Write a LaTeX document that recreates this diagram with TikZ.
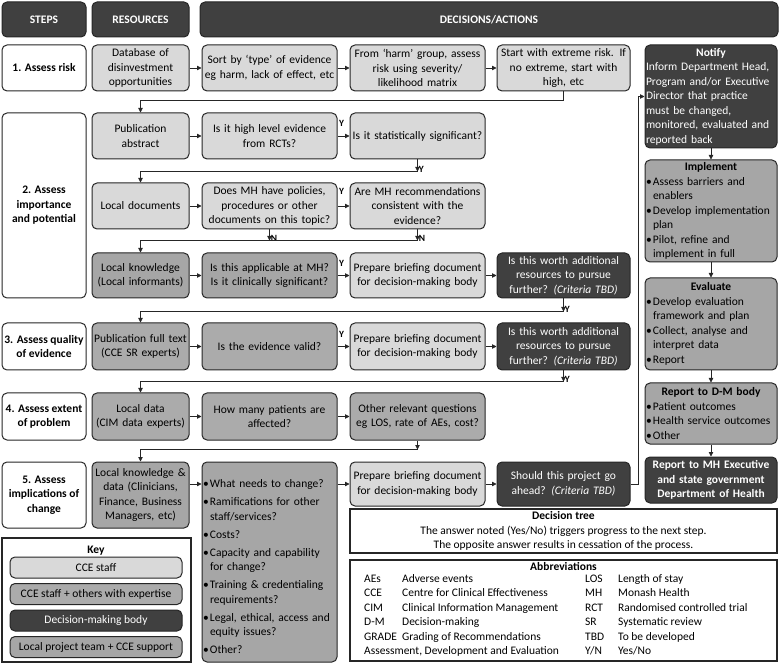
\documentclass[tikz,border=0pt]{standalone}
\usepackage{fontspec}
\setmainfont{Carlito}
\usetikzlibrary{arrows.meta, positioning}
\definecolor{ccestaff}{HTML}{D9D9D9}
\definecolor{experts}{HTML}{ABABAB}
\definecolor{localteam}{HTML}{A6A6A6}
\definecolor{dmbody}{HTML}{404040}
\definecolor{edge}{HTML}{262626}
\lefthyphenmin=64
\newcommand\fnt{\fontsize{11.5pt}{14.5pt}\selectfont}
\newcommand\bitem[1]{\par\noindent\hangindent=7pt\hangafter=1\makebox[7pt][l]{\textbullet}#1\par}
\newcommand\boxhead[1]{{\centering\bfseries #1\par}}

\begin{document}
\begin{tikzpicture}[x=1pt, y=-1pt,
  base/.style={draw=edge, line width=1pt, rounded corners=5pt, align=center, inner sep=0.5pt, font=\fnt},
  light/.style={base, fill=ccestaff},
  expert/.style={base, fill=experts},
  local/.style={base, fill=localteam},
  dm/.style={base, fill=dmbody, text=white},
  head/.style={base, fill=dmbody, text=white, font=\fnt\bfseries},
  stepbox/.style={base, fill=white, font=\fnt\bfseries, minimum width=84pt, inner sep=0pt},
  rescol/.style={minimum width=97pt, text width=95pt},
  actcol/.style={minimum width=135pt, text width=133pt},
  endcol/.style={minimum width=133pt, text width=131pt},
  rightcol/.style={minimum width=132pt, text width=130pt, align=left},
  ht/.style={minimum height=#1pt},
  plainbox/.style={draw=edge, line width=1.8pt, font=\fnt, align=center, inner sep=1pt},
  keybox/.style={base, minimum width=172pt, minimum height=21pt},
  arr/.style={-{Triangle[length=4.5pt, width=4.5pt]}, line width=0.8pt, draw=edge},
  yn/.style={font=\bfseries\fontsize{9.5}{10}\selectfont, inner sep=1pt}
]
\useasboundingbox (0,0) rectangle (780,663);

% headers
\node[head, minimum width=84pt, ht=35] (hsteps) at (44,19.5) {STEPS};
\node[head, minimum width=97pt, ht=35] (hres) at (140.5,19.5) {RESOURCES};
\node[head, minimum width=578pt, ht=35] (hact) at (489,19.5) {DECISIONS/ACTIONS};

% 1. risk
\node[stepbox, ht=46] (step1) at (44,68) {1. Assess risk};
\node[light, rescol, ht=46] (db) at (140.5,68) {Database of\\disinvestment\\opportunities};
\node[light, actcol, ht=46] (sort) at (269.5,68) {Sort by `type' of evidence\\eg harm, lack of effect, etc};
\node[light, actcol, ht=46] (harm) at (417.5,68) {From `harm' group, assess\\risk using severity/\\likelihood matrix};
\node[light, endcol, ht=46] (start) at (563.5,68) {Start with extreme risk. If\\no extreme, start with\\high, etc};

% 2. importance
\node[stepbox, ht=185] (step2) at (44,205.5) {2. Assess\\importance\\and potential};
\node[light, rescol, ht=46] (pubabs) at (140.5,136) {Publication\\abstract};
\node[light, actcol, ht=46] (highlvl) at (269.5,136) {Is it high level evidence\\from RCTs?};
\node[light, actcol, ht=46] (stat) at (417.5,136) {Is it statistically significant?};
\node[light, rescol, ht=46] (localdocs) at (140.5,206) {Local documents};
\node[light, actcol, ht=46] (doesmh) at (269.5,206) {Does MH have policies,\\procedures or other\\documents on this topic?};
\node[light, actcol, ht=46] (aremh) at (417.5,206) {Are MH recommendations\\consistent with the\\evidence?};
\node[local, rescol, ht=45] (localknow) at (140.5,275.5) {Local knowledge\\(Local informants)};
\node[local, actcol, ht=45] (applicable) at (269.5,275.5) {Is this applicable at MH?\\Is it clinically significant?};
\node[light, actcol, ht=45] (brief1) at (417.5,275.5) {Prepare briefing document\\for decision-making body};
\node[dm, endcol, ht=45] (worth1) at (563.5,275.5) {Is this worth additional\\resources to pursue\\further? \textit{(Criteria TBD)}};

% 3. quality
\node[stepbox, ht=47] (step3) at (44,346.5) {3. Assess quality\\of evidence};
\node[expert, rescol, ht=47] (pubfull) at (140.5,346.5) {Publication full text\\(CCE SR experts)};
\node[expert, actcol, ht=47] (valid) at (269.5,346.5) {Is the evidence valid?};
\node[light, actcol, ht=47] (brief2) at (417.5,346.5) {Prepare briefing document\\for decision-making body};
\node[dm, endcol, ht=47] (worth2) at (563.5,346.5) {Is this worth additional\\resources to pursue\\further? \textit{(Criteria TBD)}};

% 4. extent
\node[stepbox, ht=47] (step4) at (44,416.5) {4. Assess extent\\of problem};
\node[expert, rescol, ht=47] (localdata) at (140.5,416.5) {Local data\\(CIM data experts)};
\node[expert, actcol, ht=47] (howmany) at (269.5,416.5) {How many patients are\\affected?};
\node[expert, actcol, ht=47] (other) at (417.5,416.5) {Other relevant questions\\eg LOS, rate of AEs, cost?};

% 5. implications
\node[stepbox, ht=66] (step5) at (44,495) {5. Assess\\implications of\\change};
\node[local, rescol, ht=66] (localkd) at (140.5,495) {Local knowledge \&\\data (Clinicians,\\Finance, Business\\Managers, etc)};
\node[local, actcol, ht=200, align=left] (changes) at (269.5,562) {\setlength\parskip{3.5pt}%
  \bitem{What needs to change?}\bitem{Ramifications for other staff/services?}\bitem{Costs?}%
  \bitem{Capacity and capability for change?}\bitem{Training \& credentialing requirements?}%
  \bitem{Legal, ethical, access and equity issues?}\bitem{Other?}};
\node[light, actcol, ht=44] (brief3) at (417.5,484) {Prepare briefing document\\for decision-making body};
\node[dm, endcol, ht=44] (should) at (563.5,484) {Should this project go\\ahead? \textit{(Criteria TBD)}};

% right column
\node[dm, rightcol, ht=103] (notify) at (711,96.5) {\boxhead{Notify}Inform Department Head,\\Program and/or Executive\\Director that practice\\must be changed,\\monitored, evaluated and\\reported back};
\node[local, rightcol, ht=102] (implement) at (711,211) {\boxhead{Implement}\bitem{Assess barriers and enablers}\bitem{Develop implementation plan}\bitem{Pilot, refine and implement in full}};
\node[local, rightcol, ht=92] (evaluate) at (711,324) {\boxhead{Evaluate}\bitem{Develop evaluation framework and plan}\bitem{Collect, analyse and interpret data}\bitem{Report}};
\node[local, rightcol, ht=61] (reportdm) at (711,413.5) {\boxhead{Report to D-M body}\bitem{Patient outcomes}\bitem{Health service outcomes}\bitem{Other}};
\node[dm, minimum width=132pt, text width=130pt, ht=46, font=\fnt\bfseries] (reportmh) at (711,480) {Report to MH Executive\\and state government\\Department of Health};

% notes
\node[plainbox, minimum width=427pt, minimum height=44pt] (dtree) at (563.5,531) {\textbf{Decision tree}\\The answer noted (Yes/No) triggers progress to the next step.\\The opposite answer results in cessation of the process.};
\node[plainbox, minimum width=427pt, minimum height=101pt] (abbrev) at (563.5,610.5) {};
\node[font=\fnt\bfseries, inner sep=0pt] (abbrevtitle) at (563.5,566) {Abbreviations};
\node[anchor=north west, inner sep=0pt, font=\fnt] (abbrevlist) at (364,572) {\setlength\tabcolsep{0pt}\renewcommand\arraystretch{1.0}%
  \begin{tabular}{p{38pt}p{183pt}p{33pt}l}
  AEs & Adverse events & LOS & Length of stay\\
  CCE & Centre for Clinical Effectiveness & MH & Monash Health\\
  CIM & Clinical Information Management & RCT & Randomised controlled trial\\
  D-M & Decision-making & SR & Systematic review\\
  GRADE & Grading of Recommendations & TBD & To be developed\\
  \multicolumn{2}{@{}l}{Assessment, Development and Evaluation} & Y/N & Yes/No
  \end{tabular}};

% key
\node[plainbox, minimum width=189pt, minimum height=124pt] (key) at (96.5,600) {};
\node[font=\fnt\bfseries, inner sep=0pt] (keytitle) at (96,551) {Key};
\node[keybox, fill=ccestaff] (keycce) at (96,567.5) {CCE staff};
\node[keybox, fill=experts] (keyexp) at (96,594) {CCE staff + others with expertise};
\node[keybox, fill=dmbody, text=white] (keydm) at (96,620.5) {Decision-making body};
\node[keybox, fill=localteam] (keylocal) at (96,647) {Local project team + CCE support};

% connectors
\draw[arr] (db) -- (sort);
\draw[arr] (sort) -- (harm);
\draw[arr] (harm) -- (start);
\draw[arr] (start.south) -- ++(0,9) -| (pubabs.north);

\draw[arr] (pubabs) -- (highlvl);
\draw[arr] (highlvl) -- node[yn, above=8pt, pos=0.35] {Y} (stat);
\draw[arr] (stat.south) -- ++(0,12) coordinate (jstat) node[yn, right, yshift=2pt] {Y};
\draw[arr] (jstat) -| (localdocs.north);

\draw[arr] (localdocs) -- (doesmh);
\draw[arr] (doesmh) -- node[yn, above=10pt, pos=0.35] {Y} (aremh);
\draw[arr] (doesmh.south) -- ++(0,11) node[yn, right, yshift=2pt] {N};
\draw[arr] (aremh.south) -- ++(0,11) coordinate (jare) node[yn, right, yshift=2pt] {N};
\draw[arr] (jare) -| (localknow.north);

\draw[arr] (localknow) -- (applicable);
\draw[arr] (applicable) -- node[yn, above=8pt, pos=0.35] {Y} (brief1);
\draw[arr] (brief1) -- (worth1);
\draw[arr] (worth1.south) -- ++(0,13) coordinate (jworth1) node[yn, right, yshift=2pt] {Y};
\draw[arr] (jworth1) -| (pubfull.north);

\draw[arr] (pubfull) -- (valid);
\draw[arr] (valid) -- node[yn, above=8pt, pos=0.35] {Y} (brief2);
\draw[arr] (brief2) -- (worth2);
\draw[arr] (worth2.south) -- ++(0,11) coordinate (jworth2) node[yn, right, yshift=2pt] {Y};
\draw[arr] (jworth2) -| (localdata.north);

\draw[arr] (localdata) -- (howmany);
\draw[arr] (howmany) -- (other);
\draw[arr] (other.south) -- ++(0,9) coordinate (jother);
\draw[arr] (jother) -| (localkd.north);

\draw[arr] (localkd.east |- brief3) -- (changes.west |- brief3);
\draw[arr] (changes.east |- brief3) -- (brief3);
\draw[arr] (brief3) -- (should);
\draw[arr] (should.east) -- ++(8,0) |- (notify.west);

\draw[arr] (notify) -- (implement);
\draw[arr] (implement) -- (evaluate);
\draw[arr] (evaluate) -- (reportdm);
\draw[arr] (reportdm) -- (reportmh);
\end{tikzpicture}
\end{document}
